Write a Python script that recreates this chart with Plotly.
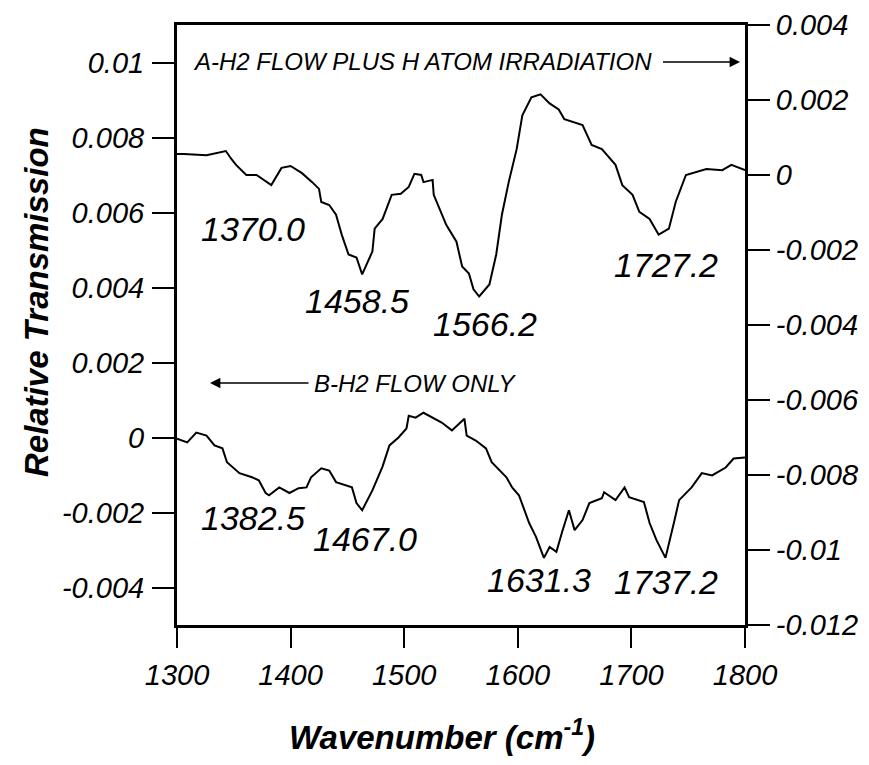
import plotly.graph_objects as go

# ---------------- data ----------------
wavenumber_A = [1300, 1306, 1326, 1343, 1348, 1352, 1361, 1370, 1383, 1392,
                1400, 1410, 1419, 1425, 1427, 1434, 1440, 1445, 1451, 1458,
                1463, 1467, 1472, 1474, 1481, 1489, 1497, 1504, 1509, 1515,
                1517, 1525, 1526, 1537, 1546, 1551, 1557, 1561, 1566, 1575,
                1581, 1586, 1592, 1599, 1604, 1612, 1620, 1628, 1636, 1641,
                1657, 1665, 1674, 1686, 1692, 1701, 1707, 1716, 1724, 1733,
                1739, 1748, 1757, 1766, 1780, 1788, 1800]
transmission_A = [0.00056, 0.00056, 0.00053, 0.00064, 0.00042, 0.00027, 0.0, 0.0, -0.00027, 0.00019,
                  0.00024, 0.00005, -0.00019, -0.00037, -0.00072, -0.00080, -0.00106, -0.00159, -0.00212, -0.00220,
                  -0.00265, -0.00236, -0.00204, -0.00143, -0.00117, -0.00053, -0.00050, -0.00032, 0.00003, 0.0,
                  -0.00019, -0.00013, -0.00053, -0.00133, -0.00178, -0.00244, -0.00263, -0.00305, -0.00324, -0.00292,
                  -0.00212, -0.00106, -0.00019, 0.00069, 0.00159, 0.00207, 0.00215, 0.00191, 0.00175, 0.00149,
                  0.00133, 0.00080, 0.00069, 0.00027, -0.00027, -0.00053, -0.00098, -0.00117, -0.00159, -0.00143,
                  -0.00072, 0.0, 0.00008, 0.00016, 0.00013, 0.00027, 0.00013]

wavenumber_B = [1300, 1309, 1317, 1326, 1333, 1340, 1344, 1355, 1366, 1372,
                1378, 1381, 1390, 1399, 1407, 1414, 1418, 1427, 1434, 1440,
                1454, 1458, 1463, 1472, 1481, 1487, 1495, 1502, 1504, 1510,
                1517, 1525, 1533, 1542, 1553, 1555, 1563, 1572, 1577, 1590,
                1595, 1601, 1610, 1616, 1623, 1628, 1634, 1639, 1645, 1650,
                1657, 1663, 1674, 1676, 1686, 1694, 1698, 1711, 1716, 1722,
                1730, 1738, 1742, 1753, 1762, 1771, 1783, 1790, 1800]
transmission_B = [-0.00003, -0.00013, 0.00013, 0.00005, -0.00021, -0.00029, -0.00066, -0.00095, -0.00106, -0.00114,
                  -0.00148, -0.00154, -0.00133, -0.00148, -0.00135, -0.00133, -0.00106, -0.00082, -0.00088, -0.00119,
                  -0.00133, -0.00175, -0.00194, -0.00141, -0.00077, -0.00021, 0.0, 0.00024, 0.00058, 0.00053,
                  0.00066, 0.00053, 0.00040, 0.00019, 0.00050, 0.00005, -0.00008, -0.00029, -0.00066, -0.00106,
                  -0.00133, -0.00154, -0.00228, -0.00265, -0.00321, -0.00292, -0.00305, -0.00252, -0.00194, -0.00247,
                  -0.00220, -0.00175, -0.00162, -0.00146, -0.00167, -0.00133, -0.00159, -0.00172, -0.00228, -0.00273,
                  -0.00321, -0.00220, -0.00167, -0.00133, -0.00095, -0.00101, -0.00080, -0.00056, -0.00053]

x_ticks = [1300, 1400, 1500, 1600, 1700, 1800]
left_ticks = [0.01, 0.008, 0.006, 0.004, 0.002, 0, -0.002, -0.004]
left_tick_text = ["0.01", "0.008", "0.006", "0.004", "0.002", "0", "-0.002", "-0.004"]
right_ticks = [0.004, 0.002, 0, -0.002, -0.004, -0.006, -0.008, -0.01, -0.012]
right_tick_text = ["0.004", "0.002", "0", "-0.002", "-0.004", "-0.006", "-0.008", "-0.01", "-0.012"]

peak_labels_A = ["1370.0", "1458.5", "1566.2", "1727.2"]
peak_labels_B = ["1382.5", "1467.0", "1631.3", "1737.2"]
label_A = "A-H2 FLOW PLUS H ATOM IRRADIATION"
label_B = "B-H2 FLOW ONLY"
x_title = "Wavenumber (cm<sup>-1</sup>)"
y_title = "Relative Transmission"

# ---------------- layout geometry ----------------
W, H = 869, 765
OFF = 8  # page body margin
L, T = 177 - OFF, 25 - OFF
PW, PH = 568, 600
R, B = W - L - PW, H - T - PH
FONT = "Liberation Sans, Arial, sans-serif"


def px(xs):
    return (xs - OFF - L) / PW


def py(ys):
    return (H - B - (ys - OFF)) / PH


fig = go.Figure()
fig.add_trace(go.Scatter(x=wavenumber_B, y=transmission_B, mode="lines",
                         line=dict(color="black", width=2), yaxis="y", showlegend=False))
fig.add_trace(go.Scatter(x=wavenumber_A, y=transmission_A, mode="lines",
                         line=dict(color="black", width=2), yaxis="y2", showlegend=False))

tickfont = dict(family=FONT, size=29, color="black", style="italic")
common = dict(ticks="outside", tickwidth=1.5, tickcolor="black", showline=True, linewidth=3,
              linecolor="black", showgrid=False, zeroline=False, tickfont=tickfont,
              ticklabeloverflow="allow")

fig.update_layout(
    width=W, height=H,
    margin=dict(l=L, r=R, t=T, b=B, autoexpand=False),
    paper_bgcolor="white", plot_bgcolor="white",
    xaxis=dict(range=[1300, 1800], tickvals=x_ticks, ticklen=20, mirror=True,
               ticklabelstandoff=2, **common),
    yaxis=dict(range=[-0.005, 0.011], tickvals=left_ticks, ticktext=left_tick_text,
               ticklen=22, ticklabelstandoff=2, **common),
    yaxis2=dict(range=[-0.012, 0.004], tickvals=right_ticks, ticktext=right_tick_text,
                ticklen=22, overlaying="y", side="right", ticklabelstandoff=0, **common),
)

ann_font = dict(family=FONT, size=24, color="black", style="italic")
peak_font = dict(family=FONT, size=34, color="black", style="italic")
title_font = dict(family=FONT, size=33, color="black", weight="bold", style="italic")

annotations = []
# series labels with arrows (arrow head position, text offset in pixels)
annotations.append(dict(xref="paper", yref="paper", x=px(740), y=py(62), text=label_A,
                        showarrow=True, axref="pixel", ayref="pixel", ax=-318, ay=0,
                        arrowhead=2, arrowsize=1.3, arrowwidth=1.6, arrowcolor="black",
                        startstandoff=10, font=ann_font))
annotations.append(dict(xref="paper", yref="paper", x=px(210), y=py(383), text=label_B,
                        showarrow=True, axref="pixel", ayref="pixel", ax=205, ay=0,
                        arrowhead=2, arrowsize=1.3, arrowwidth=1.6, arrowcolor="black",
                        startstandoff=4, font=ann_font))

pos_A = [(253, 229), (357, 301), (485, 324), (666, 265)]
pos_B = [(253, 518), (365, 539), (539, 580), (666, 582)]
for txt, (xs_, ys_) in zip(peak_labels_A, pos_A):
    annotations.append(dict(xref="paper", yref="paper", x=px(xs_), y=py(ys_), text=txt, showarrow=False,
                            xanchor="center", yanchor="middle", font=peak_font))
for txt, (xs_, ys_) in zip(peak_labels_B, pos_B):
    annotations.append(dict(xref="paper", yref="paper", x=px(xs_), y=py(ys_), text=txt, showarrow=False,
                            xanchor="center", yanchor="middle", font=peak_font))

# axis titles
annotations.append(dict(xref="paper", yref="paper", x=px(442), y=py(735), text=x_title, showarrow=False,
                        xanchor="center", yanchor="middle", font=title_font))
annotations.append(dict(xref="paper", yref="paper", x=px(36), y=py(302), text=y_title, showarrow=False,
                        xanchor="center", yanchor="middle", textangle=-90, font=title_font))

fig.update_layout(annotations=annotations)
fig.write_html("out.html")
